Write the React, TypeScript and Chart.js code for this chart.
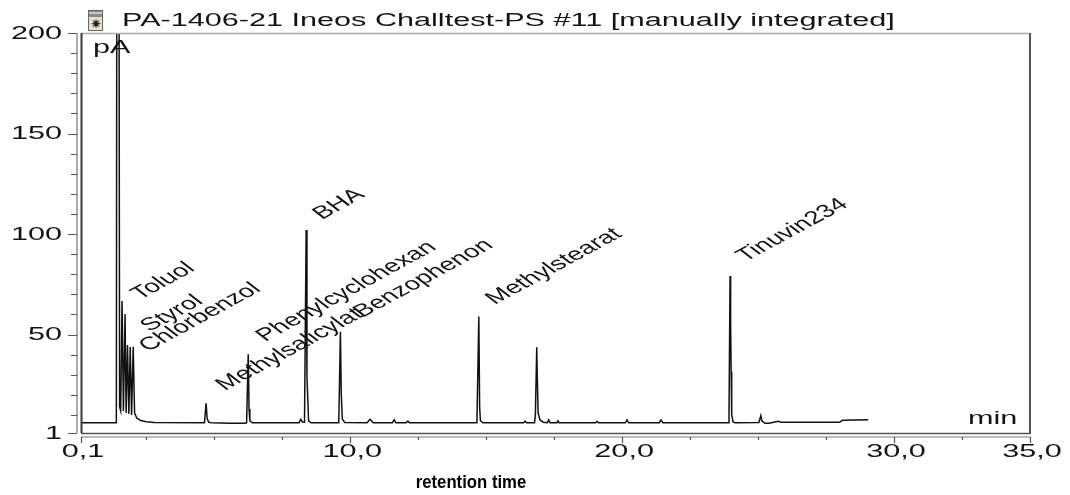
import React, { useEffect, useRef } from "react";
import { Chart, registerables } from "chart.js";

Chart.register(...registerables);

// ---------- texts ----------
const titleText = "PA-1406-21 Ineos Challtest-PS #11 [manually integrated]";
const xAxisTitle = "retention time";
const yUnit = "pA";
const xUnit = "min";

// ---------- chromatogram trace (retention time in min, signal in pA) ----------
const retentionTimes = [
  0.1, 1.4, 1.45, 1.52, 1.56, 1.61, 1.66, 1.72, 1.76, 1.81, 1.86, 1.91, 1.96, 2.02, 2.07, 2.15, 2.3, 2.5, 2.8,
  4.64, 4.7, 4.74, 4.8, 4.9, 5.6, 6.1, 6.19, 6.25, 6.28, 6.31, 6.4,
  8.12, 8.18, 8.24, 8.32, 8.38, 8.41, 8.44, 8.47, 8.56,
  9.58, 9.64, 9.67, 9.71, 9.8, 10.62, 10.73, 10.85, 11.55, 11.62, 11.68, 12.06, 12.12, 12.18,
  14.66, 14.73, 14.76, 14.79, 14.88, 16.38, 16.43, 16.48,
  16.78, 16.81, 16.86, 16.88, 16.91, 16.98, 17.1, 17.25, 17.3, 17.35, 17.6, 17.64, 17.68,
  19.03, 19.08, 19.13, 20.12, 20.18, 20.24, 21.37, 21.43, 21.5,
  23.9, 23.93, 23.97, 23.99, 24.01, 24.03, 24.08, 24.15,
  25.03, 25.1, 25.14, 25.25, 25.4, 25.75, 25.85, 28.0, 28.1, 29.05,
];
const signal = [
  6.1, 6.1, 700, 14, 12, 66.7, 12, 60.2, 11, 44.8, 10.5, 43.8, 10, 43.9, 11, 8.5, 7.2, 6.6, 6.2,
  6.1, 15.8, 8, 6.3, 6.1, 5.8, 5.9, 6.1, 40.2, 13, 7, 6.1,
  6.1, 7.8, 6.5, 6.4, 102, 29, 18, 7, 6.1,
  6.1, 51.4, 21, 8, 6.2, 6.1, 7.8, 6.1, 6.1, 7.6, 6.1, 6.1, 6.9, 6.1,
  6.1, 58.9, 14, 7, 6.1, 6.1, 6.9, 6.1,
  6.1, 10, 43.6, 29, 11, 7.5, 6.3, 6.1, 7.6, 6.1, 6.1, 7.0, 6.1,
  6.1, 6.8, 6.1, 6.1, 7.6, 6.1, 6.1, 7.5, 6.1,
  6.1, 9, 79.1, 55.6, 31.5, 10, 6.5, 6.1,
  6.2, 9.6, 7, 5.8, 5.9, 6.8, 6.3, 6.3, 7.3, 7.6,
];

// ---------- peak annotations (label anchor in data units) ----------
const peakNames = ["Toluol", "Styrol", "Chlorbenzol", "Methylsalicylat", "Phenylcyclohexan", "BHA", "Benzophenon", "Methylstearat", "Tinuvin234"];
const labelTimes = [2.28, 2.62, 2.56, 5.4, 6.88, 8.96, 10.45, 15.32, 24.54];
const labelValues = [67.2, 51.2, 41.3, 21.9, 46.3, 107, 58.2, 64.7, 86.1];

// ---------- axes ----------
const xMajorTicks = [0.1, 10, 20, 30, 35];
const xMajorLabels = ["0,1", "10,0", "20,0", "30,0", "35,0"];
const xMinorTicks = [2.5, 5, 7.5, 12.5, 15, 17.5, 22.5, 25, 27.5, 32.5];
const yMajorTicks = [1, 50, 100, 150, 200];
const yMajorLabels = ["1", "50", "100", "150", "200"];
const yMinorTicks = [10, 20, 30, 40, 60, 70, 80, 90, 110, 120, 130, 140, 160, 170, 180, 190];

const FONT = "'Liberation Sans', Arial, sans-serif";
const SX = 1.7;
const TEXT = "#141414";
const LABEL_ANGLE = (-40 * Math.PI) / 180;

function drawText(
  ctx: CanvasRenderingContext2D,
  text: string,
  x: number,
  y: number,
  o: { size?: number; align?: CanvasTextAlign; rot?: number; weight?: string; family?: string; sx?: number; color?: string } = {}
) {
  const size = o.size ?? 18;
  ctx.save();
  ctx.translate(x, y);
  ctx.scale(o.sx ?? SX, 1);
  if (o.rot) ctx.rotate(o.rot);
  ctx.font = `${o.weight ?? "normal"} ${size}px ${o.family ?? FONT}`;
  ctx.textAlign = o.align ?? "left";
  ctx.textBaseline = "alphabetic";
  ctx.fillStyle = o.color ?? TEXT;
  ctx.fillText(text, 0, 0);
  ctx.restore();
}

const decorPlugin = {
  id: "decor",
  afterDatasetsDraw(chart: any) {
    const ctx: CanvasRenderingContext2D = chart.ctx;
    const xs = chart.scales.x;
    const ys = chart.scales.y;
    const a = chart.chartArea;
    ctx.save();

    // frame
    ctx.lineWidth = 1.5;
    ctx.strokeStyle = "#a8a8a8";
    ctx.beginPath();
    ctx.moveTo(a.left, a.top + 0.5);
    ctx.lineTo(a.right, a.top + 0.5);
    ctx.stroke();
    ctx.strokeStyle = "#555";
    ctx.lineWidth = 2;
    ctx.beginPath();
    ctx.moveTo(a.right, a.top);
    ctx.lineTo(a.right, a.bottom);
    ctx.stroke();
    ctx.strokeStyle = "#3a3a3a";
    ctx.beginPath();
    ctx.moveTo(a.left + 0.5, a.top);
    ctx.lineTo(a.left + 0.5, a.bottom);
    ctx.stroke();
    ctx.strokeStyle = "#555";
    ctx.lineWidth = 1.5;
    ctx.beginPath();
    ctx.moveTo(a.left, a.bottom + 0.5);
    ctx.lineTo(a.right + 1, a.bottom + 0.5);
    ctx.stroke();

    // axis lines (offset from frame)
    ctx.strokeStyle = "#777";
    ctx.lineWidth = 1.2;
    ctx.beginPath();
    ctx.moveTo(a.left - 4, a.top);
    ctx.lineTo(a.left - 4, a.bottom);
    ctx.moveTo(a.left, a.bottom + 4);
    ctx.lineTo(a.right + 1, a.bottom + 4);
    ctx.stroke();

    // y ticks
    ctx.strokeStyle = "#555";
    ctx.lineWidth = 1.2;
    ctx.beginPath();
    yMajorTicks.forEach((v) => {
      const py = Math.round(ys.getPixelForValue(v)) + 0.5;
      ctx.moveTo(a.left - 13, py);
      ctx.lineTo(a.left - 4, py);
    });
    yMinorTicks.forEach((v) => {
      const py = Math.round(ys.getPixelForValue(v)) + 0.5;
      ctx.moveTo(a.left - 10, py);
      ctx.lineTo(a.left - 4, py);
    });
    // x ticks
    xMajorTicks.forEach((v) => {
      const px = Math.round(xs.getPixelForValue(v)) + 0.5;
      ctx.moveTo(px, a.bottom + 4);
      ctx.lineTo(px, a.bottom + 10);
    });
    xMinorTicks.forEach((v) => {
      const px = Math.round(xs.getPixelForValue(v)) + 0.5;
      ctx.moveTo(px, a.bottom + 4);
      ctx.lineTo(px, a.bottom + 7);
    });
    ctx.stroke();

    // tick labels
    yMajorTicks.forEach((v, i) => {
      drawText(ctx, yMajorLabels[i], a.left - 19, ys.getPixelForValue(v) + 5.5, { align: "right" });
    });
    xMajorTicks.forEach((v, i) => {
      drawText(ctx, xMajorLabels[i], xs.getPixelForValue(v) + 2, a.bottom + 24, { align: "center" });
    });

    // units
    drawText(ctx, yUnit, a.left + 12, a.top + 20);
    drawText(ctx, xUnit, a.right - 62, a.bottom - 9);

    // peak labels
    peakNames.forEach((name, i) => {
      drawText(ctx, name, xs.getPixelForValue(labelTimes[i]), ys.getPixelForValue(labelValues[i]), {
        rot: LABEL_ANGLE,
        sx: 1.55,
      });
    });

    // title icon
    ctx.fillStyle = "#e9e1c6";
    ctx.fillRect(88, 10, 15, 21);
    ctx.fillStyle = "#8a8a8a";
    ctx.fillRect(88, 10, 15, 7);
    ctx.fillStyle = "#c8c8c8";
    ctx.fillRect(88, 12, 15, 2);
    ctx.strokeStyle = "#666";
    ctx.lineWidth = 1;
    ctx.strokeRect(88.5, 10.5, 14, 20);
    ctx.fillStyle = "#222";
    ctx.font = `bold 12px ${FONT}`;
    ctx.textAlign = "center";
    ctx.fillText("\u2737", 95.5, 28);

    // title
    drawText(ctx, titleText, 122, 26);

    // x axis title
    drawText(ctx, xAxisTitle, 471, 488, {
      sx: 0.88,
      size: 19,
      weight: "bold",
      align: "center",
      color: "#000",
    });

    ctx.restore();
  },
};

export default function App() {
  const ref = useRef<HTMLCanvasElement | null>(null);
  useEffect(() => {
    if (!ref.current) return;
    const points = retentionTimes.map((t, i) => ({ x: t, y: signal[i] }));
    const chart = new Chart(ref.current, {
      type: "line",
      data: {
        datasets: [
          {
            data: points,
            borderColor: "#111",
            borderWidth: 1.5,
            pointRadius: 0,
            tension: 0,
            fill: false,
          },
        ],
      },
      options: {
        animation: false,
        responsive: false,
        maintainAspectRatio: false,
        devicePixelRatio: 1,
        layout: { padding: { left: 81, right: 40, top: 33, bottom: 62 } },
        scales: {
          x: { type: "linear", min: 0.1, max: 35, display: false },
          y: { type: "linear", min: 1, max: 200, display: false },
        },
        plugins: { legend: { display: false }, tooltip: { enabled: false }, title: { display: false } },
        events: [],
      },
      plugins: [decorPlugin],
    });
    return () => chart.destroy();
  }, []);
  return (
    <div style={{ position: "absolute", left: 0, top: 0, width: 1070, height: 495, background: "#fff" }}>
      <canvas ref={ref} width={1070} height={495} style={{ display: "block", width: 1070, height: 495 }} />
    </div>
  );
}
